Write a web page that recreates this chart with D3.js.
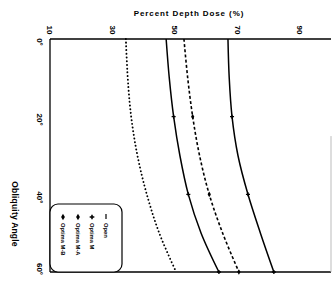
<!DOCTYPE html>
<html><head><meta charset="utf-8">
<script src="https://cdn.jsdelivr.net/npm/d3@7"></script>
<style>body{margin:0;background:#fff}svg{display:block}</style>
</head><body>
<script>
const angles = [0, 10, 20, 30, 40, 50, 60];
const openDose = [34.3, 34.9, 36.0, 38.0, 41.0, 45.0, 50.4];
const mDose = [47.2, 48.2, 49.6, 51.6, 54.3, 58.4, 64.1];
const maDose = [52.9, 54.1, 55.7, 57.9, 61.0, 65.3, 70.5];
const mbDose = [67.0, 67.4, 68.3, 70.2, 73.4, 77.4, 81.7];
const seriesNames = ["Open", "Optima M", "Optima M-A", "Optima M-B"];
const doseTicks = [10, 30, 50, 70, 90];
const angleTicks = [0, 20, 40, 60];
const markerAngles = [20, 40, 60];

const W = 332, H = 284;
const svg = d3.select("body").append("svg").attr("width", W).attr("height", H);
const x = d3.scaleLinear().domain([10, 100]).range([50, 331]);
const y = d3.scaleLinear().domain([0, 60]).range([39, 272]);
const font = "'Liberation Sans', Arial, sans-serif";

// frame
svg.append("line").attr("x1", x(10)).attr("x2", x(100)).attr("y1", y(0)).attr("y2", y(0)).attr("stroke", "#000").attr("stroke-width", 1.3);
svg.append("line").attr("x1", x(10)).attr("x2", x(100)).attr("y1", y(60)).attr("y2", y(60)).attr("stroke", "#000").attr("stroke-width", 1.3);
svg.append("line").attr("x1", x(10)).attr("x2", x(10)).attr("y1", y(0)).attr("y2", y(60)).attr("stroke", "#000").attr("stroke-width", 1.3);
svg.append("line").attr("x1", x(100)).attr("x2", x(100)).attr("y1", y(25)).attr("y2", y(60)).attr("stroke", "#bbb").attr("stroke-width", 1);

// dose tick labels (rotated)
doseTicks.forEach(t => {
  svg.append("text").attr("transform", `translate(${x(t)},${y(0) - 9}) rotate(90)`)
    .attr("text-anchor", "middle").attr("dy", "0.35em")
    .attr("font-family", font).attr("font-weight", "bold").attr("font-size", 8).text(t);
});
// angle tick labels
angleTicks.forEach(t => {
  svg.append("text").attr("transform", `translate(40,${y(t) + (t === 60 ? -3 : 3)}) rotate(90)`)
    .attr("text-anchor", "middle").attr("dy", "0.35em")
    .attr("font-family", font).attr("font-weight", "bold").attr("font-size", 8).text(t + "°");
});

svg.append("text").attr("x", 189).attr("y", 16).attr("text-anchor", "middle")
  .attr("font-family", font).attr("font-weight", "bold").attr("font-size", 8)
  .attr("letter-spacing", 0.9).text("Percent Depth Dose (%)");
svg.append("text").attr("transform", `translate(15,214) rotate(90)`).attr("text-anchor", "middle").attr("dy", "0.35em")
  .attr("font-family", font).attr("font-weight", "bold").attr("font-size", 8.5)
  .attr("letter-spacing", 0.2).text("Obliquity Angle");

const line = d3.line().x(d => x(d[1])).y(d => y(d[0])).curve(d3.curveCatmullRom.alpha(0.5));
const series = [
  {vals: openDose, dash: "0.1,3.6", cap: "round", w: 1.9, marker: null},
  {vals: mDose, dash: null, cap: "butt", w: 1.5, marker: "plus"},
  {vals: maDose, dash: "3,2.2", cap: "butt", w: 1.6, marker: "diamond"},
  {vals: mbDose, dash: null, cap: "butt", w: 1.5, marker: "plus"}
];
series.forEach(s => {
  const pts = angles.map((a, i) => [a, s.vals[i]]);
  svg.append("path").attr("d", line(pts)).attr("fill", "none").attr("stroke", "#000")
    .attr("stroke-width", s.w).attr("stroke-dasharray", s.dash).attr("stroke-linecap", s.cap);
  if (s.marker) {
    markerAngles.forEach(a => {
      const v = s.vals[angles.indexOf(a)];
      const sym = s.marker === "plus" ? d3.symbolCross : d3.symbolDiamond;
      svg.append("path").attr("d", d3.symbol().type(sym).size(9)())
        .attr("transform", `translate(${x(v)},${y(a)})`).attr("fill", "#000");
    });
  }
});

// legend
svg.append("rect").attr("x", 50).attr("y", 204).attr("width", 72).attr("height", 68).attr("rx", 8)
  .attr("fill", "#fff").attr("stroke", "#000").attr("stroke-width", 1.2);
const legX = [106, 92, 78, 63];
const legSym = [null, d3.symbolCross, d3.symbolDiamond, d3.symbolDiamond];
seriesNames.forEach((n, i) => {
  if (legSym[i]) {
    svg.append("path").attr("d", d3.symbol().type(legSym[i]).size(12)()).attr("transform", `translate(${legX[i]},217)`).attr("fill", "#000");
  } else {
    svg.append("line").attr("x1", legX[i]).attr("x2", legX[i]).attr("y1", 214).attr("y2", 219).attr("stroke", "#000").attr("stroke-width", 1.2);
  }
  svg.append("text").attr("transform", `translate(${legX[i]},223) rotate(90)`).attr("dy", "0.35em")
    .attr("font-family", font).attr("font-weight", "bold").attr("font-size", 5.8).text(n);
});
</script>
</body></html>
